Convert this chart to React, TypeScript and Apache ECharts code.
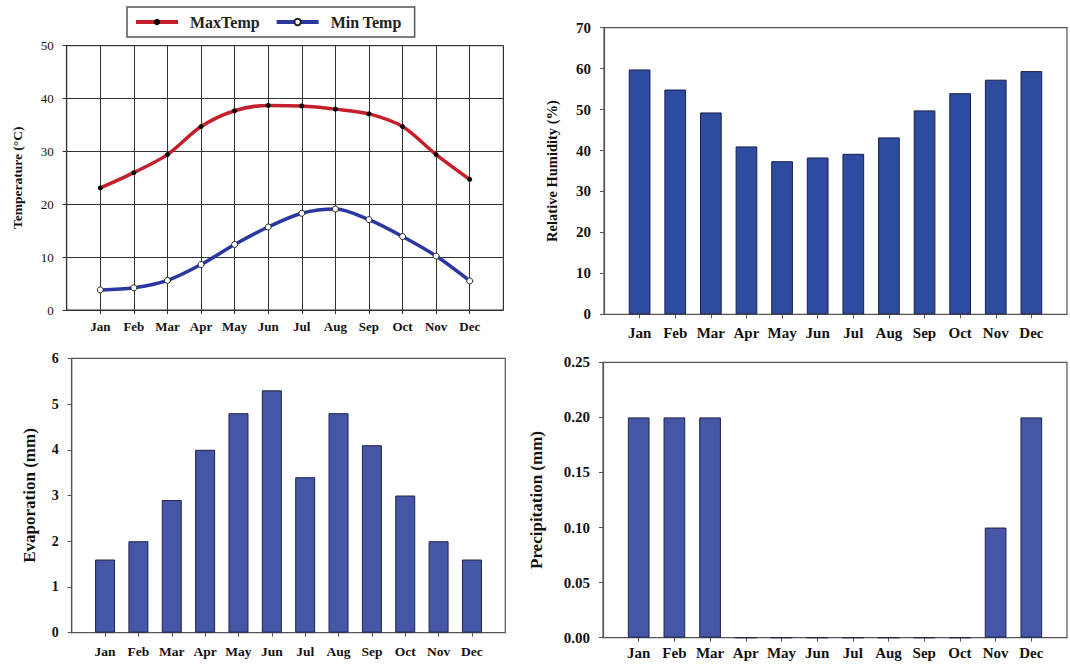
import React, { useEffect, useRef } from "react";
import * as echarts from "echarts";

const MONTHS = ["Jan", "Feb", "Mar", "Apr", "May", "Jun", "Jul", "Aug", "Sep", "Oct", "Nov", "Dec"];
const MAX_TEMP = [23.1, 26.0, 29.4, 34.7, 37.7, 38.7, 38.6, 38.0, 37.1, 34.7, 29.4, 24.7];
const MIN_TEMP = [3.8, 4.2, 5.6, 8.6, 12.4, 15.7, 18.3, 19.1, 17.1, 13.9, 10.2, 5.5];
const HUMIDITY = [59.8, 54.9, 49.3, 41.0, 37.4, 38.3, 39.2, 43.2, 49.8, 54.0, 57.3, 59.4];
const EVAPORATION = [1.6, 2.0, 2.9, 4.0, 4.8, 5.3, 3.4, 4.8, 4.1, 3.0, 2.0, 1.6];
const PRECIPITATION = [0.2, 0.2, 0.2, 0, 0, 0, 0, 0, 0, 0, 0.1, 0.2];

const FONT = "'Liberation Serif', 'Times New Roman', serif";
const pad = (a: number[]) => ["-", ...a, "-"];
const CATS = ["", ...MONTHS, ""];

function xAxis(gridIndex: number, fontSize: number, margin: number, color: string, split = false) {
  return {
    type: "category",
    gridIndex,
    data: CATS,
    boundaryGap: false,
    axisLine: { show: true, lineStyle: { color, width: 1.2 } },
    axisTick: {
      show: true,
      length: 4,
      interval: (_i: number, v: string) => v !== "",
      lineStyle: { color },
    },
    axisLabel: { interval: 0, fontFamily: FONT, fontWeight: "bold", fontSize, color: "#111", margin },
    splitLine: { show: split, interval: 0, lineStyle: { color: "#333", width: 1 } },
  };
}

function yAxis(
  gridIndex: number,
  max: number,
  interval: number,
  name: string,
  nameGap: number,
  nameSize: number,
  labelSize: number,
  labelWeight: string,
  color: string,
  split = false,
  fmt?: (v: number) => string
) {
  return {
    type: "value",
    gridIndex,
    min: 0,
    max,
    interval,
    name,
    nameLocation: "middle",
    nameRotate: 90,
    nameGap,
    nameTextStyle: { fontFamily: FONT, fontWeight: "bold", fontSize: nameSize, color: "#111" },
    axisLine: { show: true, lineStyle: { color, width: 1.2 } },
    axisTick: { show: true, length: 4, lineStyle: { color } },
    axisLabel: {
      fontFamily: FONT,
      fontWeight: labelWeight,
      fontSize: labelSize,
      color: "#111",
      margin: 13,
      formatter: fmt,
    },
    splitLine: { show: split, lineStyle: { color: "#333", width: 1 } },
  };
}

export default function App() {
  const ref = useRef<HTMLDivElement>(null);
  useEffect(() => {
    if (!ref.current) return;
    const chart = echarts.init(ref.current, null, { renderer: "svg" });
    const barBottom = { color: "#4556a6", borderColor: "#20234a", borderWidth: 1 };
    chart.setOption({
      animation: false,
      backgroundColor: "#fff",
      legend: {
        data: ["MaxTemp", "Min Temp"],
        left: 127,
        top: 7,
        borderColor: "#555",
        borderWidth: 1.5,
        padding: [7, 13, 7, 7],
        itemWidth: 42,
        itemHeight: 8,
        itemGap: 15,
        lineStyle: { width: 4 },
        textStyle: { fontFamily: FONT, fontWeight: "bold", fontSize: 16, color: "#222", padding: [0, 0, 0, 7] },
      },
      grid: [
        { left: 66.7, top: 45.7, width: 436.6, height: 264.3, show: true, borderColor: "#333", borderWidth: 1 },
        { left: 604, top: 27.7, width: 470.6, height: 286.6, show: true, borderColor: "#555", borderWidth: 1.2 },
        { left: 71.7, top: 358.3, width: 433.6, height: 274.4, show: true, borderColor: "#555", borderWidth: 1.2 },
        { left: 603, top: 362.3, width: 469.3, height: 275.4, show: true, borderColor: "#555", borderWidth: 1.2 },
      ],
      xAxis: [
        xAxis(0, 13, 10, "#333", true),
        xAxis(1, 15, 11, "#555"),
        xAxis(2, 13.5, 12, "#555"),
        xAxis(3, 15, 8, "#555"),
      ],
      yAxis: [
        yAxis(0, 50, 10, "Temperature (°C)", 42, 13.5, 13, "normal", "#333", true),
        yAxis(1, 70, 10, "Relative Humidity (%)", 45, 14.5, 15, "bold", "#555"),
        yAxis(2, 6, 1, "Evaporation (mm)", 34, 17, 14, "bold", "#555"),
        yAxis(3, 0.25, 0.05, "Precipitation (mm)", 58.5, 17, 15, "bold", "#555", false, (v: number) => v.toFixed(2)),
      ],
      series: [
        {
          type: "line",
          name: "MaxTemp",
          xAxisIndex: 0,
          yAxisIndex: 0,
          data: pad(MAX_TEMP),
          smooth: 0.3,
          symbol: "circle",
          symbolSize: 5,
          lineStyle: { color: "#c3202c", width: 3.5 },
          itemStyle: { color: "#000" },
          z: 4,
        },
        {
          type: "line",
          name: "Min Temp",
          xAxisIndex: 0,
          yAxisIndex: 0,
          data: pad(MIN_TEMP),
          smooth: 0.3,
          symbol: "circle",
          symbolSize: 6,
          lineStyle: { color: "#2a37a0", width: 3.5 },
          itemStyle: { color: "#fff", borderColor: "#222", borderWidth: 1 },
          z: 4,
        },
        {
          type: "bar",
          name: "Relative Humidity",
          xAxisIndex: 1,
          yAxisIndex: 1,
          data: pad(HUMIDITY),
          barWidth: 21.7,
          itemStyle: { color: "#2e4c9f", borderColor: "#1b1f4a", borderWidth: 1 },
        },
        {
          type: "bar",
          name: "Evaporation",
          xAxisIndex: 2,
          yAxisIndex: 2,
          data: pad(EVAPORATION),
          barWidth: 20,
          itemStyle: barBottom,
        },
        {
          type: "bar",
          name: "Precipitation",
          xAxisIndex: 3,
          yAxisIndex: 3,
          data: pad(PRECIPITATION),
          barWidth: 21.7,
          itemStyle: barBottom,
        },
      ],
    });
    return () => chart.dispose();
  }, []);
  return <div ref={ref} style={{ position: "absolute", left: 0, top: 0, width: 1070, height: 664 }} />;
}
